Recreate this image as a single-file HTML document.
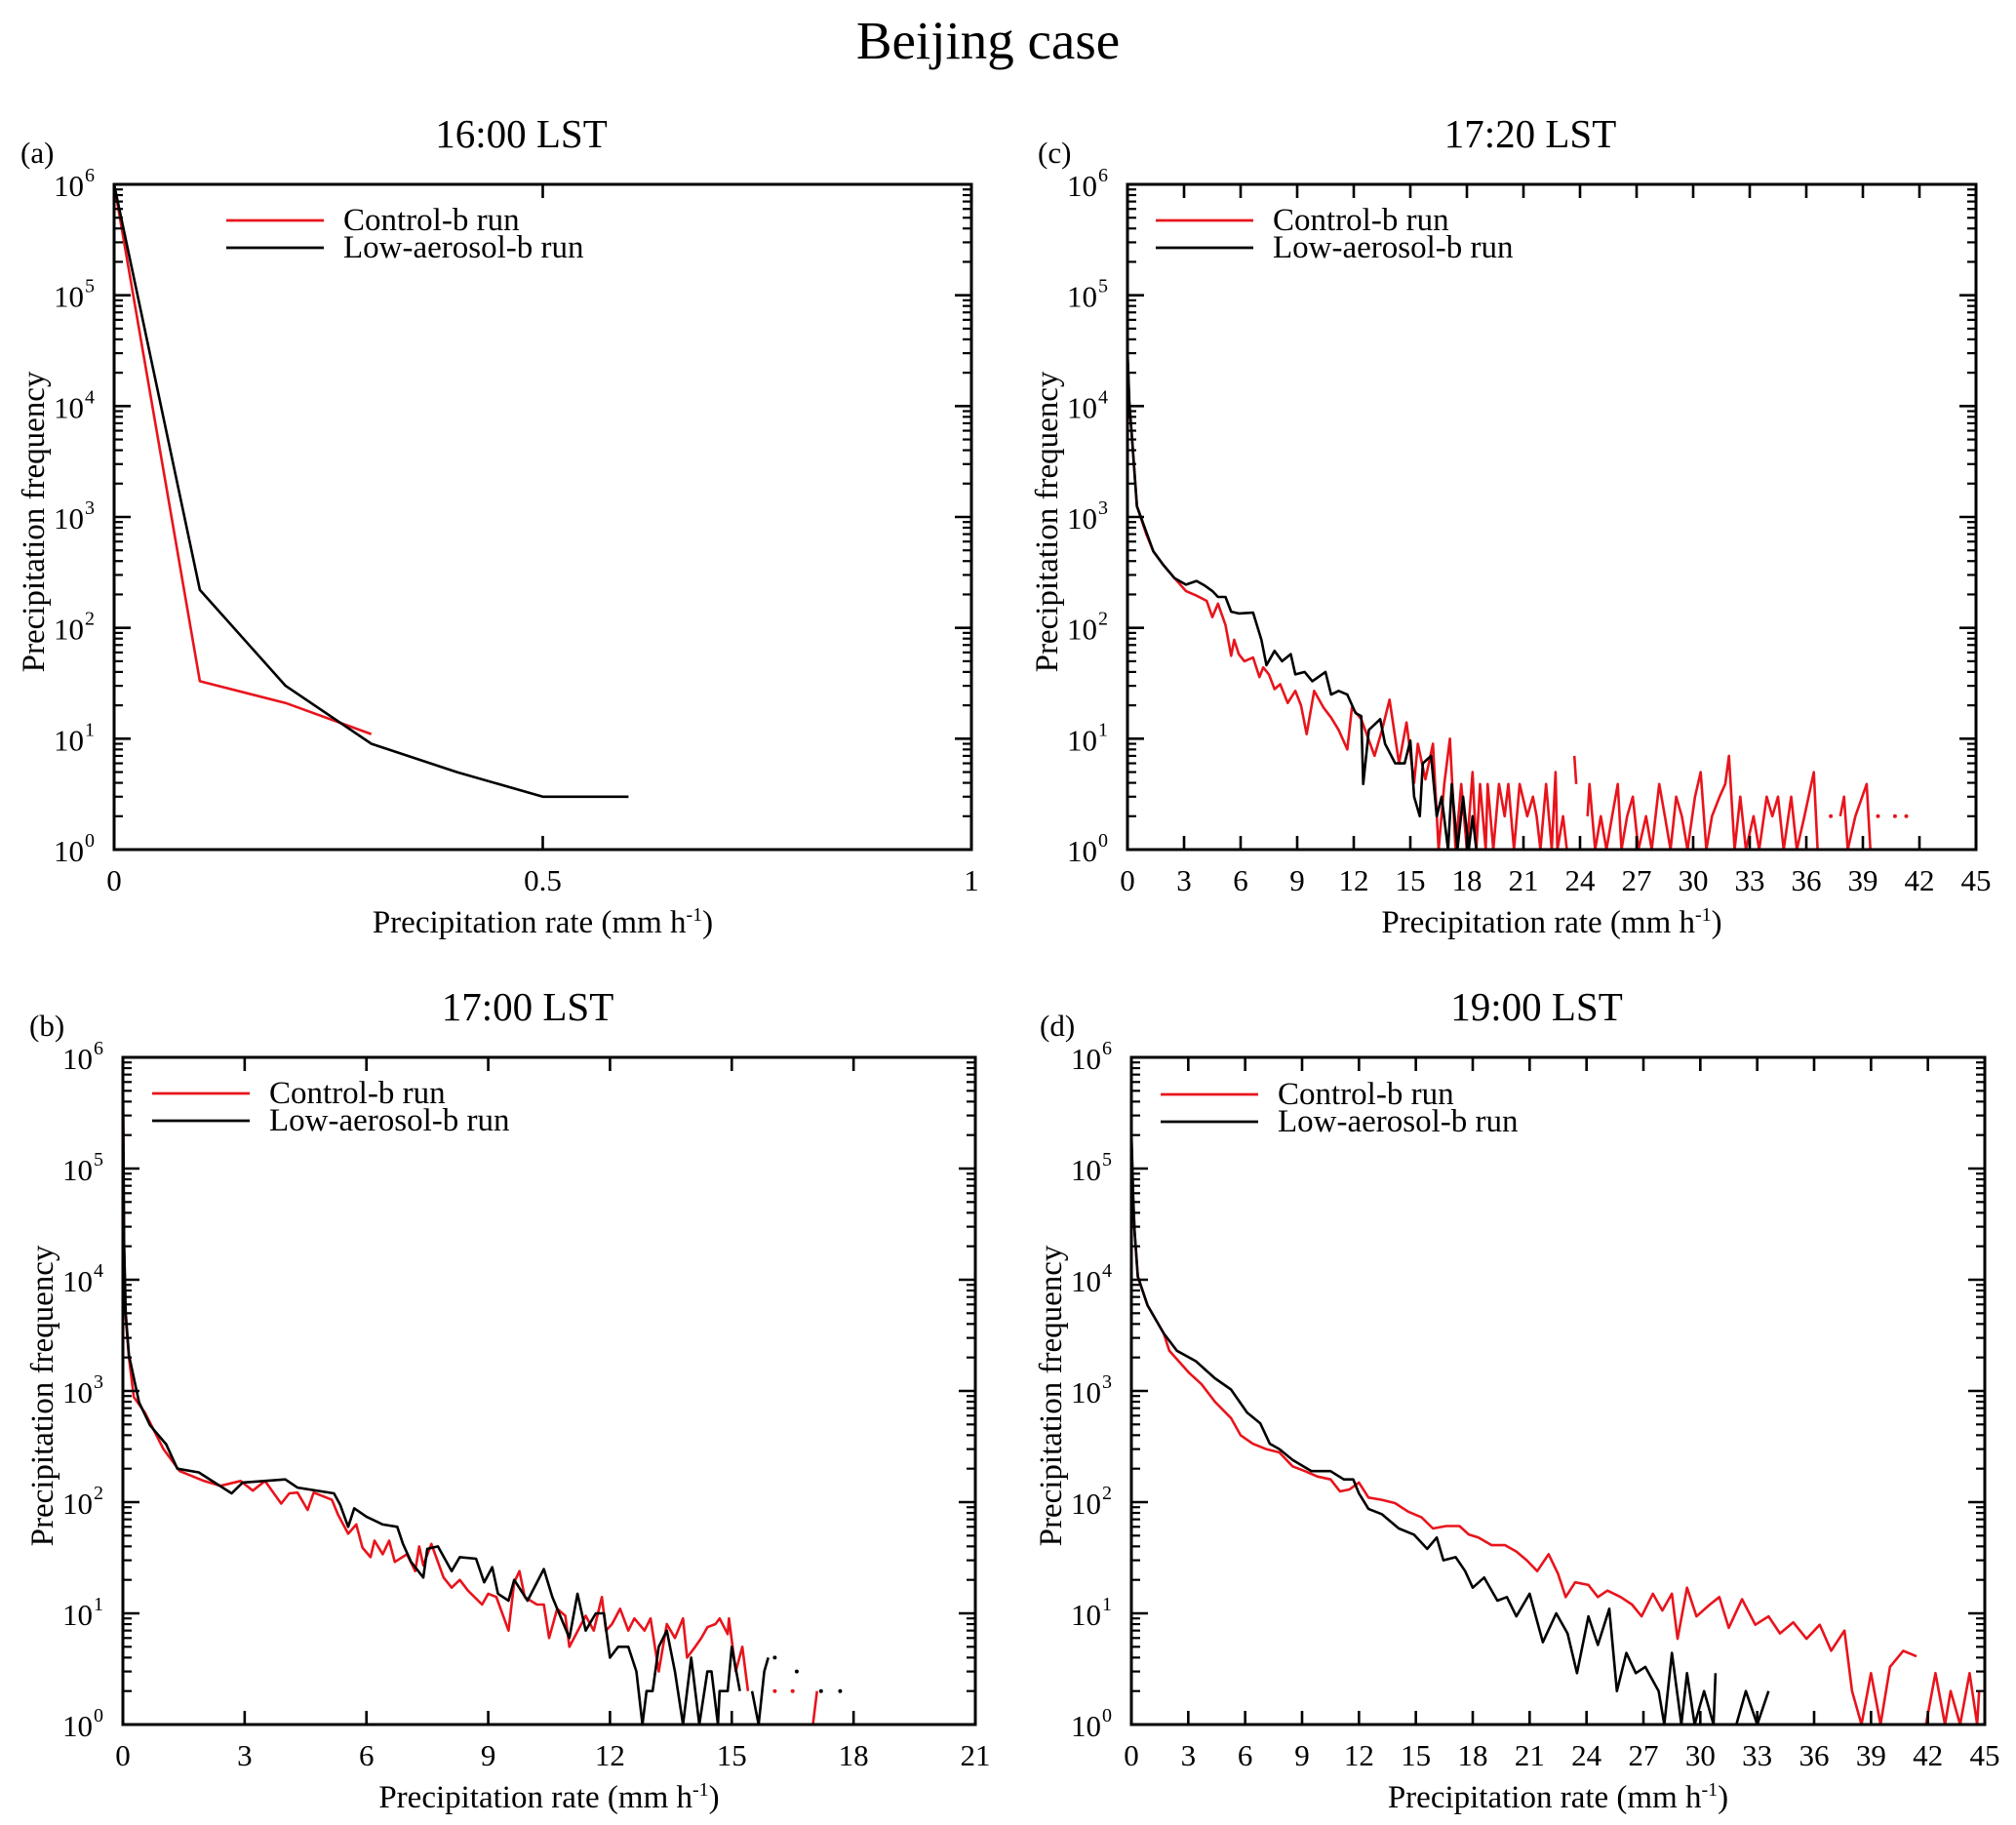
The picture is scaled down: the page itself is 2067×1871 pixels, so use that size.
<!DOCTYPE html>
<html><head><meta charset="utf-8">
<style>
html,body{margin:0;padding:0;background:#fff;}
svg{display:block;font-family:"Liberation Serif",serif;}
</style></head>
<body>
<svg id="fig" width="2067" height="1871" viewBox="0 0 2067 1871" xmlns="http://www.w3.org/2000/svg">
<text x="1013" y="60" font-size="55" text-anchor="middle">Beijing case</text>
</svg>
<script>
// ---- Panel (a) data ----
const aCtrlX = [0, 0.1, 0.2, 0.3];
const aCtrlY = [1000000, 33, 21, 11];
const aLowX = [0, 0.1, 0.2, 0.3, 0.4, 0.5, 0.6];
const aLowY = [1000000, 220, 30, 9, 5, 3, 3];

// ---- Panel (b) data ----
const bCtrlX = [0,0.03,0.07,0.15,0.27,0.54,1.0,1.4,2.0,2.4,2.9,3.2,3.5,3.9,4.1,4.3,4.55,4.7,5.15,5.3,5.55,5.75,5.9,6.1,6.2,6.4,6.56,6.7,7.0,7.2,7.3,7.4,7.6,7.9,8.1,8.3,8.5,8.85,9.0,9.2,9.5,9.64,9.77,9.9,10.2,10.37,10.5,10.7,10.9,11.0,11.4,11.6,11.8,11.9,12.05,12.25,12.45,12.6,12.85,13.0,13.2,13.4,13.6,13.8,13.9,14.1,14.25,14.4,14.6,14.7,14.9,14.93,15.1,15.26,15.4,null,16.06,null,16.5,null,16.7,17.0,17.1];
const bCtrlY = [800000,20000,4500,2000,880,640,300,190,155,140,155,127,155,97,120,122,85,122,105,77,52,63,39,32,45,34,45,29,34,24,40,27,42,21,17,20,16,12,15,14,7,19,24,14,12,12,6,11,9.5,5,9.5,7,14,7,8,11,7,9,7,9,3,8,6,9,4,5,6,7.5,8,9,6.5,9,3,5,2,null,2,null,2,null,1,1,2];
const bLowX = [0,0.03,0.07,0.15,0.4,0.67,1.07,1.34,1.87,2.68,2.95,4.0,4.3,5.2,5.35,5.55,5.7,6.0,6.4,6.76,6.9,7.1,7.4,7.5,7.76,8.1,8.3,8.7,8.9,9.1,9.24,9.5,9.64,9.97,10.37,10.58,11.0,11.2,11.4,11.65,11.85,12.0,12.2,12.45,12.65,12.8,12.9,13.05,13.2,13.4,13.6,13.8,14.0,14.2,14.4,14.5,14.66,14.7,14.9,15.0,15.2,null,15.5,15.66,15.8,15.9,null,16.06,null,16.6,null,17.2,null,17.67];
const bLowY = [900000,22000,5000,2100,790,490,330,200,185,120,150,160,135,120,95,60,88,74,63,60,42,29,21,38,40,24,32,31,19,26,15,13,20,13,25,14,6,15,7,10,10,4,5,5,3,1,2,2,5,7,3,1,4,1,3,3,1,2,2,5,2,null,2,1,3,4,null,4,null,3,null,2,null,2];

// ---- Panel (c) data ----
const cCtrlX = [0,0.1,0.23,0.5,1.0,1.37,1.9,2.5,3.1,3.66,4.2,4.5,4.8,5.2,5.5,5.66,5.9,6.2,6.66,7.0,7.2,7.5,7.8,8.1,8.5,8.9,9.2,9.5,9.9,10.4,10.8,11.2,11.66,11.9,12.4,13.1,13.5,13.9,14.4,14.8,15.2,15.4,15.8,16.2,16.5,16.8,17.1,17.4,17.7,18,18.3,18.5,18.7,19,19.1,19.4,19.7,20,20.2,20.5,20.8,21.2,21.5,21.7,21.9,22.2,22.5,22.7,22.8,23.1,23.3,null,23.7,23.8,null,24.4,24.5,24.8,25.1,25.4,25.7,26,26.2,26.5,26.8,27.1,27.5,27.8,28.2,28.5,28.8,29.1,29.4,29.7,30.1,30.4,30.7,31,31.4,31.7,31.9,32.2,32.5,32.8,33.2,33.5,33.9,34.2,34.5,34.8,35.2,35.5,35.9,36.4,36.6,null,37.3,null,37.8,38,38.2,38.6,39.2,39.4,null,39.8,null,40.7,null,41.3];
const cCtrlY = [30000,10000,5500,1250,700,490,370,280,215,195,175,125,165,106,56,78,58,50,54,36,44,38,28,31,21,27,20,11,27,19,15.5,12,8,19,15,7,12,22.5,6,14,4,9,4.3,9,1,3.9,10,1,3.9,1,5,1,3.9,1,3.9,1,3.9,2,3.9,1,3.9,2,3,2,1,3.9,1,5,1,2,1,null,7,3.9,null,2,3.9,1,2,1,2,3.9,1,2,3,1,2,1,3.9,2,1,3,2,1,3,5,1,2,3,3.9,7,1,3,1,2,1,3,2,3,1,3,1,2,5,1,null,2,null,2,3,1,2,3.9,1,null,2,null,2,null,2];
const cLowX = [0,0.1,0.23,0.5,1.37,1.9,2.5,3.1,3.66,4.1,4.5,4.8,5.2,5.5,5.9,6.66,7.1,7.37,7.8,8.2,8.66,8.9,9.4,9.8,10.5,10.8,11.2,11.66,12.1,12.4,12.5,12.8,13.4,13.66,14.2,14.7,15.0,15.2,15.5,15.66,16.1,16.4,16.66,17,17.2,17.5,17.8,18.1,18.3,18.5];
const cLowY = [32000,11000,5500,1250,490,370,280,245,265,240,215,190,190,140,135,137,78,46,62,50,58,38,40,33,40,25,27,25,17,16,3.9,12,15,9,6,6,9.6,3,2,6,7,2,3,1,3.9,1,3,1,2,1];

// ---- Panel (d) data ----
const dCtrlX = [0,0.1,0.17,0.34,0.85,1.7,2.0,3.05,3.7,4.4,5.25,5.76,6.4,7.1,7.8,8.5,9.15,9.8,10.5,11.0,11.5,12.0,12.5,13.2,13.9,14.6,15.3,15.9,16.6,17.3,17.8,18.3,19.0,19.7,20.3,20.85,21.4,22.0,22.5,22.9,23.4,24.1,24.6,25.1,25.8,26.4,26.9,27.5,28.0,28.5,28.8,29.3,29.8,30.5,31.0,31.5,32.2,32.9,33.6,34.2,34.9,35.6,36.3,36.9,37.6,38.0,38.5,39.0,39.5,40,40.7,41.4,null,41.9,42.4,42.9,43.2,43.7,44.2,44.6,44.7];
const dCtrlY = [200000,50000,27000,10700,5900,3300,2300,1450,1150,800,570,400,335,300,280,210,190,170,160,125,130,150,110,105,98,82,73,58,61,61,51,48,41,41,36,30,24,34,22.6,14,19,18,14,16,14,12,9.4,15,10.6,15,5.9,17,9.4,12,14,7.4,13.4,7.9,9.4,6.6,8.3,5.9,7.9,4.6,7,2,1,2.9,1,3.3,4.6,4.1,null,1,2.9,1,2,1,2.9,1,2];
const dLowX = [0,0.1,0.17,0.34,0.85,1.7,2.4,3.4,4.4,5.25,6.1,6.8,7.3,7.8,8.5,9.5,10.5,11.2,11.7,12.0,12.5,13.2,14.1,14.9,15.6,16.1,16.45,17.1,17.6,18,18.6,19.3,19.8,20.3,21.0,21.7,22.4,23.0,23.5,24.1,24.6,25.2,25.6,26.1,26.6,27.1,27.8,28.1,28.5,29,29.3,29.7,30.2,30.7,30.8,null,31.9,32.4,33,33.6];
const dLowY = [220000,55000,27000,10700,5900,3300,2300,1850,1300,1030,640,510,335,300,240,190,190,160,160,120,87,78,58,51,38,48,30,32,24,17,21,13,14,9.4,15,5.5,10,6.6,2.9,9.4,5.2,11,2,4.4,2.9,3.3,2,1,4.4,1,2.9,1,2,1,2.9,null,1,2,1,2];

const svg = document.getElementById('fig');
const NS = 'http://www.w3.org/2000/svg';
function mk(tag, attrs, parent){
  const e = document.createElementNS(NS, tag);
  for (const k in attrs) e.setAttribute(k, attrs[k]);
  (parent||svg).appendChild(e);
  return e;
}

function drawPanel(p){
  const g = mk('g', {});
  
  
  const xs = v => p.L + (v / p.xmax) * (p.R - p.L);
  const ys = v => p.B - (Math.log10(Math.max(v, 1)) / 6) * (p.B - p.T);

  const series = [
    {x: p.ctrlX, y: p.ctrlY, color: '#e8141c', name: 'control-b-line'},
    {x: p.lowX, y: p.lowY, color: '#000000', name: 'low-aerosol-b-line'}
  ];
  const clip = mk('clipPath', {id: 'clip-' + p.id}, g);
  mk('rect', {x: p.L, y: p.T - 2, width: p.R - p.L, height: p.B - p.T + 4}, clip);
  series.forEach(s => {
    const sg = mk('g', {'clip-path': 'url(#clip-' + p.id + ')'}, g);
    
    
    let seg = [];
    const flush = () => {
      if (seg.length === 1) {
        const c = mk('circle', {cx: seg[0][0], cy: seg[0][1], r: 2, fill: s.color}, sg);
        
        
      } else if (seg.length > 1) {
        const pl = mk('polyline', {points: seg.map(q => q.join(',')).join(' '), fill: 'none', stroke: s.color, 'stroke-width': 2.6, 'stroke-linejoin': 'round'}, sg);
        
        
      }
      seg = [];
    };
    for (let i = 0; i < s.x.length; i++) {
      if (s.x[i] === null || s.y[i] === null) { flush(); continue; }
      seg.push([xs(s.x[i]).toFixed(1), ys(s.y[i]).toFixed(1)]);
    }
    flush();
  });

  const fr = mk('rect', {x: p.L, y: p.T, width: p.R - p.L, height: p.B - p.T, fill: 'none', stroke: '#000', 'stroke-width': 3}, g);
  
  

  p.xticks.forEach((t, i) => {
    const x = xs(t);
    if (i > 0 && i < p.xticks.length - 1) {
      mk('line', {x1: x, y1: p.B, x2: x, y2: p.B - 14, stroke: '#000', 'stroke-width': 2.6}, g);
      mk('line', {x1: x, y1: p.T, x2: x, y2: p.T + 14, stroke: '#000', 'stroke-width': 2.6}, g);
    }
    const tl = mk('text', {x: x, y: p.B + 42, 'font-size': 31, 'text-anchor': 'middle'}, g);
    
    
    tl.textContent = p.xlabels[i];
  });
  for (let d = 0; d <= 6; d++) {
    const y = ys(Math.pow(10, d));
    if (d > 0 && d < 6) {
      mk('line', {x1: p.L, y1: y, x2: p.L + 17, y2: y, stroke: '#000', 'stroke-width': 2.6}, g);
      mk('line', {x1: p.R, y1: y, x2: p.R - 17, y2: y, stroke: '#000', 'stroke-width': 2.6}, g);
    }
    if (d < 6) {
      for (let k = 2; k <= 9; k++) {
        const ym = ys(k * Math.pow(10, d));
        mk('line', {x1: p.L, y1: ym, x2: p.L + 9, y2: ym, stroke: '#000', 'stroke-width': 2.2}, g);
        mk('line', {x1: p.R, y1: ym, x2: p.R - 9, y2: ym, stroke: '#000', 'stroke-width': 2.2}, g);
      }
    }
    const t = mk('text', {x: p.L - 20, y: y + 12, 'font-size': 31, 'text-anchor': 'end'}, g);
    
    
    t.textContent = '10';
    const sup = mk('tspan', {dx: 1, dy: -15, 'font-size': 20}, t);
    sup.textContent = String(d);
  }
  const xt = mk('text', {x: (p.L + p.R) / 2, y: p.B + 85, 'font-size': 33, 'text-anchor': 'middle'}, g);
  
  
  xt.textContent = 'Precipitation rate (mm h';
  const s1 = mk('tspan', {dy: -12, 'font-size': 20}, xt); s1.textContent = '-1';
  const s2 = mk('tspan', {dy: 12}, xt); s2.textContent = ')';
  const cy = (p.T + p.B) / 2 + 5;
  const yt = mk('text', {x: p.L - 72, y: cy, 'font-size': 33, 'text-anchor': 'middle', transform: 'rotate(-90 ' + (p.L - 72) + ' ' + cy + ')'}, g);
  
  
  yt.textContent = 'Precipitation frequency';
  const pt = mk('text', {x: (p.L + p.R) / 2 - 22, y: p.T - 38, 'font-size': 41, 'text-anchor': 'middle'}, g);
  
  
  pt.textContent = p.title;
  const lb = mk('text', {x: p.labX, y: p.T - 22, 'font-size': 31}, g);
  
  
  lb.textContent = '(' + p.id + ')';
  const lg = mk('g', {}, g);
  
  
  [['Control-b run', '#e8141c', 0], ['Low-aerosol-b run', '#000', 1]].forEach(e => {
    const y = p.legY + e[2] * 28;
    const ln = mk('line', {x1: p.legX, y1: y, x2: p.legX + 100, y2: y, stroke: e[1], 'stroke-width': 2.8}, lg);
    
    
    const tx = mk('text', {x: p.legX + 120, y: y + 10, 'font-size': 33}, lg);
    
    
    tx.textContent = e[0];
  });
}

const ticks45 = [0,3,6,9,12,15,18,21,24,27,30,33,36,39,42,45];
const ticks21 = [0,3,6,9,12,15,18,21];
drawPanel({id: 'a', L: 117, R: 996, T: 189, B: 871, xmax: 1, xticks: [0, 0.5, 1], xlabels: ['0', '0.5', '1'],
  title: '16:00 LST', labX: 21, legX: 232, legY: 226, ctrlX: aCtrlX, ctrlY: aCtrlY, lowX: aLowX, lowY: aLowY});
drawPanel({id: 'c', L: 1156, R: 2026, T: 189, B: 871, xmax: 45, xticks: ticks45, xlabels: ticks45.map(String),
  title: '17:20 LST', labX: 1064, legX: 1185, legY: 226, ctrlX: cCtrlX, ctrlY: cCtrlY, lowX: cLowX, lowY: cLowY});
drawPanel({id: 'b', L: 126, R: 1000, T: 1084, B: 1768, xmax: 21, xticks: ticks21, xlabels: ticks21.map(String),
  title: '17:00 LST', labX: 30, legX: 156, legY: 1121, ctrlX: bCtrlX, ctrlY: bCtrlY, lowX: bLowX, lowY: bLowY});
drawPanel({id: 'd', L: 1160, R: 2035, T: 1084, B: 1768, xmax: 45, xticks: ticks45, xlabels: ticks45.map(String),
  title: '19:00 LST', labX: 1066, legX: 1190, legY: 1122, ctrlX: dCtrlX, ctrlY: dCtrlY, lowX: dLowX, lowY: dLowY});
</script>
</body></html>
